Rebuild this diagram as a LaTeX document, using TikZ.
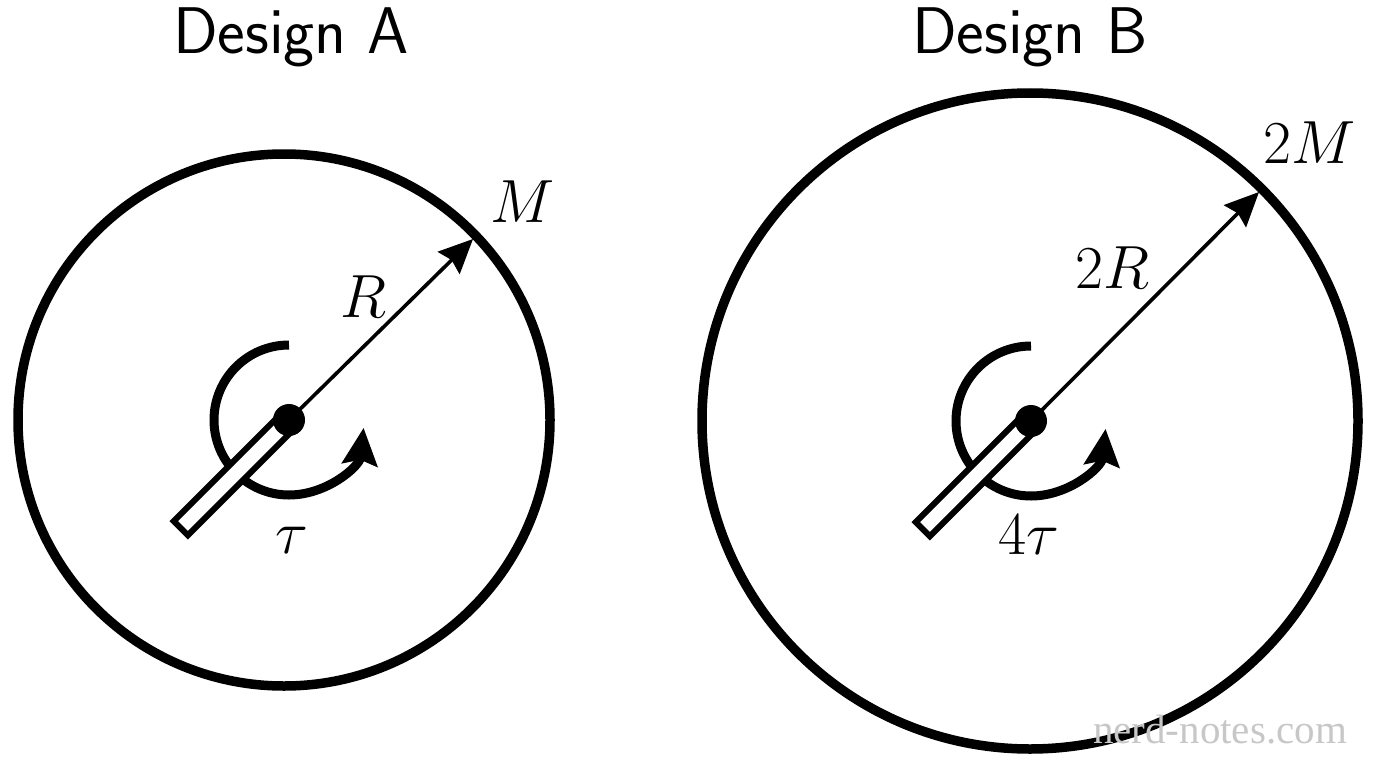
\RequirePackage{fix-cm}
\documentclass[tikz,border=0pt]{standalone}
\usepackage{fontspec}
\newfontfamily\wmfont{Liberation Serif}
\usetikzlibrary{arrows.meta,calc}
\tikzset{
  wheel/.style={draw, circle, line width=9.5pt, inner sep=0pt},
  hub/.style={circle, fill=black, minimum size=32pt, inner sep=0pt},
  radius arrow/.style={line width=3.6pt, -{Stealth[length=34pt,width=31pt,inset=4pt]}},
  torque arrow/.style={line width=9pt, -{Stealth[length=37pt,width=35pt,inset=5pt]}},
  rodbox/.style={draw=black, fill=white, line width=6pt, line join=miter},
  mathlabel/.style={inner sep=0pt, font=\fontsize{61}{63}\selectfont},
  title/.style={inner sep=0pt, anchor=base, font=\sffamily\fontsize{66}{68}\selectfont},
  watermark/.style={inner sep=0pt, anchor=base, text=black!22, font=\wmfont\fontsize{41}{43}\selectfont}
}
\begin{document}
\begin{tikzpicture}[x=1pt, y=-1pt]
\useasboundingbox (0,0) rectangle (1376,768);

% ---------- Design A ----------
\node[title] (titleA) at (291,54) {Design A};
\node[wheel, minimum size=532pt] (wheelA) at (284,420) {};
\coordinate (hubAc) at (289,420);
\draw[torque arrow] ($(hubAc)+(0,-75)$) arc[start angle=270, end angle=6, radius=75];
\draw[rodbox] (296.1,427.1) -- (281.9,412.9) -- (173.7,521.1) -- (187.9,535.3) -- cycle;
\coordinate (tipA) at (473,239);
\draw[radius arrow] (hubAc) -- (tipA);
\node[hub] (hubA) at (hubAc) {};
\node[mathlabel] (labR) at (363,297) {$R$};
\node[mathlabel] (labM) at (523,202) {$M$};
\node[mathlabel, anchor=base] (labT) at (292,553) {$\tau$};

% ---------- Design B ----------
\node[title] (titleB) at (1030,54) {Design B};
\node[wheel, minimum size=656pt] (wheelB) at (1030,421) {};
\coordinate (hubBc) at (1031,421);
\draw[torque arrow] ($(hubBc)+(0,-75)$) arc[start angle=270, end angle=6, radius=75];
\draw[rodbox] (1038.1,428.1) -- (1023.9,413.9) -- (915.7,522.1) -- (929.9,536.3) -- cycle;
\coordinate (tipB) at (1259,192);
\draw[radius arrow] (hubBc) -- (tipB);
\node[hub] (hubB) at (hubBc) {};
\node[mathlabel] (lab2R) at (1112,268) {$2R$};
\node[mathlabel] (lab2M) at (1310,143) {$2M$};
\node[mathlabel, anchor=base] (lab4T) at (1029,554) {$4\tau$};

\node[watermark] (wm) at (1220,743) {nerd-notes.com};
\end{tikzpicture}
\end{document}
